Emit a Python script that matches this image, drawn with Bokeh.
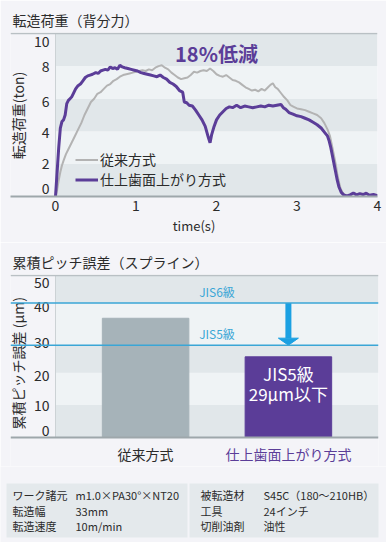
import math
from bokeh.plotting import figure
from bokeh.models import Range1d, FixedTicker, Span, Legend, LegendItem
from bokeh.layouts import column
from bokeh.embed import file_html
from bokeh.resources import INLINE
from bokeh.core.properties import value

# ---------------- data ----------------
time_purple = [0.00, 0.02, 0.04, 0.06, 0.08, 0.10, 0.12, 0.14, 0.16, 0.18, 0.20, 0.22, 0.25, 0.28,
               0.31, 0.34, 0.37, 0.40, 0.43, 0.46, 0.50, 0.53, 0.56, 0.59, 0.62, 0.65, 0.68, 0.71,
               0.74, 0.77, 0.80, 0.83, 0.86, 0.90, 0.94, 0.98, 1.02, 1.06, 1.10, 1.14, 1.18, 1.22,
               1.26, 1.30, 1.34, 1.38, 1.42, 1.46, 1.50, 1.54, 1.58, 1.60, 1.63, 1.66, 1.70, 1.74,
               1.78, 1.82, 1.86, 1.90, 1.92, 1.94, 1.97, 2.00, 2.04, 2.08, 2.12, 2.16, 2.20, 2.25,
               2.30, 2.35, 2.40, 2.45, 2.50, 2.55, 2.60, 2.65, 2.70, 2.75, 2.80, 2.83, 2.86, 2.90,
               2.95, 3.00, 3.05, 3.10, 3.15, 3.20, 3.25, 3.30, 3.34, 3.38, 3.40, 3.42, 3.44, 3.46,
               3.48, 3.50, 3.52, 3.55, 3.58, 3.62, 3.66, 3.70, 3.74, 3.78, 3.82, 3.86, 3.90, 3.95, 4.00]
load_purple = [0.0, 1.5, 3.0, 4.2, 4.6, 4.7, 5.0, 5.7, 5.9, 6.0, 6.1, 6.3, 6.6, 6.8,
               6.9, 7.1, 7.3, 7.4, 7.45, 7.5, 7.6, 7.55, 7.7, 7.75, 7.8, 7.75, 7.95, 7.85,
               7.9, 7.8, 8.05, 7.95, 7.9, 7.85, 7.8, 7.75, 7.7, 7.6, 7.55, 7.5, 7.45, 7.4,
               7.35, 7.45, 7.3, 7.2, 7.0, 6.9, 6.75, 6.5, 6.4, 5.8, 5.75, 5.6, 5.55, 5.3,
               5.0, 4.7, 4.3, 3.6, 3.3, 3.8, 4.3, 4.7, 5.0, 5.2, 5.4, 5.5, 5.45, 5.6,
               5.45, 5.55, 5.5, 5.45, 5.5, 5.55, 5.5, 5.6, 5.55, 5.6, 5.65, 5.45, 5.35, 5.15,
               5.05, 4.95, 4.9, 4.8, 4.7, 4.55, 4.4, 4.2, 3.95, 3.7, 3.4, 3.0, 2.5, 2.0,
               1.5, 1.0, 0.6, 0.25, 0.1, 0.03, 0.1, 0.22, 0.1, 0.18, 0.12, 0.2, 0.08, 0.12, 0.05]

time_gray = [0.00, 0.02, 0.04, 0.06, 0.08, 0.10, 0.13, 0.16, 0.20, 0.24, 0.28, 0.32, 0.36, 0.40,
             0.44, 0.48, 0.52, 0.56, 0.60, 0.64, 0.68, 0.72, 0.76, 0.80, 0.84, 0.88, 0.92, 0.96,
             1.00, 1.04, 1.08, 1.12, 1.16, 1.20, 1.24, 1.28, 1.32, 1.36, 1.40, 1.44, 1.48, 1.52,
             1.56, 1.60, 1.64, 1.68, 1.72, 1.76, 1.80, 1.84, 1.88, 1.92, 1.96, 2.00, 2.04, 2.08,
             2.12, 2.16, 2.20, 2.24, 2.28, 2.32, 2.36, 2.40, 2.44, 2.48, 2.52, 2.56, 2.60, 2.64,
             2.67, 2.70, 2.73, 2.76, 2.80, 2.84, 2.88, 2.92, 2.96, 3.00, 3.05, 3.10, 3.15, 3.20,
             3.25, 3.30, 3.34, 3.38, 3.41, 3.44, 3.46, 3.48, 3.50, 3.52, 3.54, 3.57, 3.60]
load_gray = [0.0, 0.4, 1.0, 1.5, 1.9, 2.2, 2.6, 2.9, 3.3, 3.7, 4.1, 4.5, 5.0, 5.4,
             5.8, 6.0, 6.3, 6.4, 6.6, 6.8, 6.9, 7.1, 7.2, 7.35, 7.45, 7.5, 7.55, 7.6,
             7.65, 7.7, 7.75, 7.7, 7.8, 7.75, 7.9, 8.0, 8.05, 7.9, 7.8, 7.6, 7.45, 7.3,
             7.2, 7.25, 7.3, 7.45, 7.65, 7.6, 7.7, 7.75, 7.7, 7.85, 7.7, 7.5, 7.4, 7.35,
             7.45, 7.3, 7.15, 7.1, 7.0, 6.85, 6.7, 6.6, 6.5, 6.55, 6.45, 6.6, 6.5, 6.7,
             6.85, 6.95, 6.7, 6.6, 6.35, 6.1, 5.9, 5.6, 5.5, 5.4, 5.35, 5.3, 5.2, 5.1,
             5.0, 4.8, 4.5, 4.1, 3.7, 3.0, 2.5, 2.0, 1.4, 0.9, 0.5, 0.2, 0.05]

series_names = ["従来方式", "仕上歯面上がり方式"]
load_band_edges = [0, 2, 4, 6, 8, 10]
load_tick_labels = ["0", "2", "4", "6", "8", "10"]
load_label_pos = [0.5, 2.0, 3.95, 5.85, 8.0, 9.5]   # where the reference prints the labels
time_ticks = [0, 1, 2, 3, 4]
load_title = "転造荷重（背分力）"
load_ylabel = "転造荷重(ton)"
load_xlabel = "time(s)"
load_note = "18%低減"

pitch_categories = ["従来方式", "仕上歯面上がり方式"]
pitch_values = [36.8, 24.9]
pitch_band_edges = [0, 10, 20, 28.5, 41.5, 50]
pitch_tick_labels = ["0", "10", "20", "30", "40", "50"]
pitch_label_pos = [2.3, 10.0, 19.2, 29.2, 40.5, 47.9]  # where the reference prints the labels
jis_levels = [41.5, 28.5]
jis_names = ["JIS6級", "JIS5級"]
pitch_title = "累積ピッチ誤差（スプライン）"
pitch_ylabel = "累積ピッチ誤差 (μm)"
pitch_note = ["JIS5級", "29μm以下"]

spec_labels_left = ["ワーク諸元", "転造幅", "転造速度"]
spec_values_left = ["m1.0×PA30°×NT20", "33mm", "10m/min"]
spec_labels_right = ["被転造材", "工具", "切削油剤"]
spec_values_right = ["S45C（180～210HB）", "24インチ", "油性"]

# ---------------- styles ----------------
FONT = "Noto Sans CJK JP"
BG = "#f4f4f8"
DARK_BAND = "#e1e7ea"
LIGHT_BAND = "#eff3f5"
PURPLE = "#5b3d98"
GRAY_LINE = "#b3b3b3"
BAR_GRAY = "#a6b3b9"
BLUE_LINE = "#3aa6d6"
ARROW_BLUE = "#1ba0e2"
TEXT = "#2b2b2b"
AXIS = "#9ea7ab"
EDGE = "#b9c0c4"
SIDE = "#ccd2d5"
W = 386


def base_fig(height, x_range, y_range, left, right, top, bottom):
    p = figure(width=W, height=height, x_range=x_range, y_range=y_range,
               output_backend="svg", toolbar_location=None,
               min_border_left=left, min_border_right=right,
               min_border_top=top, min_border_bottom=bottom,
               background_fill_color=BG, border_fill_color=BG, outline_line_color=None)
    p.frame_align = False
    p.xgrid.grid_line_color = None
    p.ygrid.grid_line_color = None
    p.yaxis.visible = False
    return p


def style_title(p, text):
    p.title.text = text
    p.title.text_font = FONT
    p.title.text_font_size = "14px"
    p.title.text_font_style = "normal"
    p.title.text_color = TEXT
    p.title.align = "left"
    p.title.offset = 2
    p.title.standoff = 5


def bands(p, x0, x1, edges):
    cols = [DARK_BAND if i % 2 == 0 else LIGHT_BAND for i in range(len(edges) - 1)]
    p.quad(left=x0, right=x1, bottom=edges[:-1], top=edges[1:], fill_color=cols, line_color=None)


# ---------------- chart 1 : frame x 10..377, y 32..196 (page px) ----------------
X1_PX = 322 / 4.0            # px per second
Y1_PX = 163 / 10.0           # px per ton
x1_min = -(55 - 10) / X1_PX
y1_max = 10 + 1 / Y1_PX
p1 = base_fig(242, Range1d(x1_min, time_ticks[-1]), Range1d(0, y1_max), 10, 9, 32, 46)
style_title(p1, load_title)
ax = p1.xaxis[0]
ax.ticker = FixedTicker(ticks=time_ticks)
ax.major_tick_line_color = None
ax.minor_tick_line_color = None
ax.major_tick_out = 0
ax.major_tick_in = 0
ax.major_label_text_font = FONT
ax.major_label_text_font_size = "14px"
ax.major_label_text_color = TEXT
ax.major_label_standoff = 3
ax.axis_label = load_xlabel
ax.axis_label_text_font = FONT
ax.axis_label_text_font_size = "13px"
ax.axis_label_text_font_style = "normal"
ax.axis_label_text_color = TEXT
ax.axis_label_standoff = 2
ax.axis_line_color = AXIS
ax.axis_line_width = 2

bands(p1, time_ticks[0], time_ticks[-1], load_band_edges)
p1.segment(x0=[time_ticks[0]], y0=[load_band_edges[0]], x1=[time_ticks[0]], y1=[load_band_edges[-1]],
           line_color=SIDE, line_width=1)
p1.add_layout(Span(location=load_band_edges[-1], dimension="width", line_color=EDGE, line_width=1.5))

p1.text(x=[-6 / X1_PX] * len(load_tick_labels), y=load_label_pos, text=load_tick_labels,
        text_font=value(FONT), text_font_size="14px", text_color=TEXT,
        text_align="right", text_baseline="middle")
p1.text(x=[-(55 - 17.5) / X1_PX], y=[4.97], text=[load_ylabel], angle=math.pi / 2,
        text_font=value(FONT), text_font_size="14px", text_color=TEXT,
        text_align="center", text_baseline="middle")

r_gray = p1.line(time_gray, load_gray, line_color=GRAY_LINE, line_width=2)
r_purple = p1.line(time_purple, load_purple, line_color=PURPLE, line_width=3)

leg = Legend(items=[LegendItem(label=series_names[0], renderers=[r_gray]),
                    LegendItem(label=series_names[1], renderers=[r_purple])],
             location=(65, 7), background_fill_alpha=0, border_line_color=None,
             label_text_font=FONT, label_text_font_size="14px", label_text_color=TEXT,
             label_text_line_height=1.0,
             glyph_width=23, glyph_height=17, label_height=17, label_standoff=2,
             spacing=-3, padding=0, margin=0)
p1.add_layout(leg)

p1.text(x=[2.0], y=[8.8], text=[load_note], text_font=value(FONT), text_font_size="20px",
        text_font_style="bold", text_color=PURPLE, text_align="center", text_baseline="middle")

# ---------------- chart 2 : frame x 10..378, y 274..466 (page px) ----------------
X2_PX = 323 / 2.262          # px per category slot
Y2_PX = 162 / 50.0           # px per micrometre
cat_x = [i + 0.5 for i in range(len(pitch_categories))]
x2_lo = cat_x[0] - 0.631
x2_hi = cat_x[-1] + 0.631
x2_min = x2_lo - (55 - 10) / X2_PX
y2_max = 50 + 1 / Y2_PX
y2_min = y2_max - 192 / Y2_PX
p2 = base_fig(224, Range1d(x2_min, x2_hi), Range1d(y2_min, y2_max), 10, 8, 32, 0)
style_title(p2, pitch_title)
p2.xaxis.visible = False

bands(p2, x2_lo, x2_hi, pitch_band_edges)
p2.segment(x0=[x2_lo], y0=[pitch_band_edges[0]], x1=[x2_lo], y1=[pitch_band_edges[-1]],
           line_color=SIDE, line_width=1)
p2.add_layout(Span(location=pitch_band_edges[-1], dimension="width", line_color=EDGE, line_width=1.5))

p2.vbar(x=cat_x, top=pitch_values, width=0.606, color=[BAR_GRAY, PURPLE])
p2.add_layout(Span(location=pitch_band_edges[0], dimension="width", line_color=AXIS, line_width=2))

p2.text(x=[x2_lo - 6 / X2_PX] * len(pitch_tick_labels), y=pitch_label_pos, text=pitch_tick_labels,
        text_font=value(FONT), text_font_size="14px", text_color=TEXT,
        text_align="right", text_baseline="middle")
p2.text(x=[x2_lo - (55 - 17.5) / X2_PX], y=[22.9], text=[pitch_ylabel], angle=math.pi / 2,
        text_font=value(FONT), text_font_size="14px", text_color=TEXT,
        text_align="center", text_baseline="middle")

for lvl, name in zip(jis_levels, jis_names):
    p2.add_layout(Span(location=lvl, dimension="width", line_color=BLUE_LINE, line_width=1.5))
p2.text(x=[1.0] * len(jis_names), y=[l + 3 / Y2_PX for l in jis_levels], text=jis_names,
        text_font=value(FONT), text_font_size="12px", text_color=BLUE_LINE,
        text_align="center", text_baseline="bottom")

arrow_x = cat_x[1]
head_hw = 10 / X2_PX
head_h = 7 / Y2_PX
p2.segment(x0=[arrow_x], y0=[jis_levels[0]], x1=[arrow_x], y1=[jis_levels[1] + head_h],
           line_color=ARROW_BLUE, line_width=6)
p2.patch(x=[arrow_x - head_hw, arrow_x + head_hw, arrow_x],
         y=[jis_levels[1] + head_h, jis_levels[1] + head_h, jis_levels[1]],
         fill_color=ARROW_BLUE, line_color=ARROW_BLUE)

p2.text(x=[cat_x[1]] * 2, y=[pitch_values[1] - 5.2, pitch_values[1] - 11.4], text=pitch_note,
        text_font=value(FONT), text_font_size="17px", text_color="white",
        text_align="center", text_baseline="middle")

p2.text(x=cat_x, y=[-16 / Y2_PX] * len(cat_x), text=pitch_categories,
        text_color=[TEXT, PURPLE], text_font=value(FONT), text_font_size="14px",
        text_align="center", text_baseline="middle")

# ---------------- spec table ----------------
p3 = base_fig(76, Range1d(0, W), Range1d(76, 0), 0, 0, 0, 0)
p3.xaxis.visible = False
p3.quad(left=[6, 189], right=[187, 378], top=[17, 17], bottom=[71, 71],
        fill_color="#e4e9ec", line_color=None)
row_y = [28, 44, 59]
for xs, texts in ((12, spec_labels_left), (75, spec_values_left),
                  (200, spec_labels_right), (263, spec_values_right)):
    p3.text(x=[xs] * len(texts), y=row_y, text=texts, text_font=value(FONT),
            text_font_size="11px", text_color=TEXT, text_baseline="middle", text_align="left")

layout = column(p1, p2, p3, spacing=0)
html = file_html(layout, INLINE)
html = html.replace("<body>", '<body style="background-color:%s;">' % BG, 1)
open("out.html", "w").write(html)
